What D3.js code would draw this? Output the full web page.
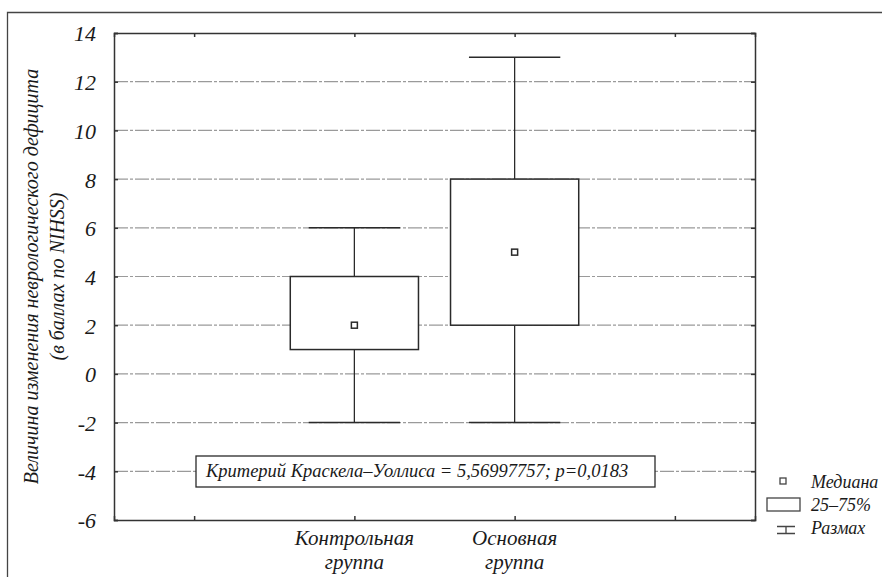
<!DOCTYPE html>
<html><head>
<meta charset="UTF-8">
<script src="https://cdn.jsdelivr.net/npm/d3@7"></script>
</head>
<body style="margin:0">
<svg id="vis" width="882" height="577"></svg>
<script>
// данные
var groups = [["Контрольная","группа"], ["Основная","группа"]];
var groupPos = [2, 3];
var medians = [2, 5];
var q1 = [1, 2];
var q3 = [4, 8];
var mins = [-2, -2];
var maxs = [6, 13];
var yTicks = [-6, -4, -2, 0, 2, 4, 6, 8, 10, 12, 14];
var xTicks = [1, 2, 3, 4];
var testLabel = "Критерий Краскела\u2013Уоллиса = 5,56997757; p=0,0183";
var yTitle = ["Величина изменения неврологического дефицита", "(в баллах по NIHSS)"];
var legendLabels = ["Медиана", "25\u201375%", "Размах"];

var fam = "'Times New Roman', 'Liberation Serif', Tinos, serif";
var ink = "#1a1a1a";
var svg = d3.select("#vis").style("font-family", fam).style("font-style", "italic");
var L = 114, R = 755, T = 33, B = 520;

function txt(sel, size){
  return sel.style("font-family", fam).style("font-style","italic")
    .style("font-size", size + "px").attr("fill", ink);
}

// внешняя рамка
svg.append("path").attr("d", "M7.5,577 V12.5 H882")
  .attr("fill","none").attr("stroke","#444").attr("stroke-width",1.3);

var y = d3.scaleLinear().domain([-6,14]).range([B,T]);
var x = d3.scaleLinear().domain([0.5,4.5]).range([L,R]);

// сетка
var gGrid = svg.append("g");
gGrid.selectAll("line").data(yTicks.filter(function(d){ return d>-6 && d<14; }))
  .enter().append("line")
  .attr("x1",L).attr("x2",R)
  .attr("y1",function(d){ return y(d); }).attr("y2",function(d){ return y(d); })
  .attr("stroke","#9a9a9a").attr("stroke-width",1.2)
  .attr("stroke-dasharray","14,2,3,2");

// оси
var gy = svg.append("g").attr("transform","translate("+L+",0)")
  .call(d3.axisLeft(y).tickValues(yTicks).tickSize(-4).tickPadding(18)
    .tickFormat(function(d){ return String(d); }));
var gyr = svg.append("g").attr("transform","translate("+R+",0)")
  .call(d3.axisRight(y).tickValues(yTicks).tickSize(-4).tickFormat(""));
var gx = svg.append("g").attr("transform","translate(0,"+B+")")
  .call(d3.axisBottom(x).tickValues(xTicks).tickSize(-4).tickFormat(""));
var gxt = svg.append("g").attr("transform","translate(0,"+T+")")
  .call(d3.axisTop(x).tickValues(xTicks).tickSize(-4).tickFormat(""));
[gy,gyr,gx,gxt].forEach(function(g){
  g.attr("font-family", null).style("font-family", fam);
  g.select(".domain").attr("stroke","#333").attr("stroke-width",1.5);
  g.selectAll(".tick line").attr("stroke","#333").attr("stroke-width",1.5);
});
txt(gy.selectAll(".tick text"), 22).attr("dy","0.36em");

// подписи категорий
groups.forEach(function(g,i){
  var t = txt(svg.append("text"), 21).attr("text-anchor","middle")
    .attr("x", x(groupPos[i])).attr("y", 545);
  t.append("tspan").attr("x", x(groupPos[i])).text(g[0]);
  t.append("tspan").attr("x", x(groupPos[i])).attr("dy", 24).text(g[1]);
});

// заголовок оси Y
yTitle.forEach(function(s,i){
  txt(svg.append("text"), 20).attr("text-anchor","middle")
    .attr("transform","translate("+(38+i*26)+","+((T+B)/2)+") rotate(-90)")
    .text(s);
});

// ящики
var bw = 0.8, cw = 0.57;
var gBox = svg.append("g");
groupPos.forEach(function(p,i){
  var g = gBox.append("g");
  var st = "#2a2a2a";
  g.append("line").attr("x1",x(p)).attr("x2",x(p)).attr("y1",y(maxs[i])).attr("y2",y(q3[i]))
    .attr("stroke",st).attr("stroke-width",1.3);
  g.append("line").attr("x1",x(p)).attr("x2",x(p)).attr("y1",y(q1[i])).attr("y2",y(mins[i]))
    .attr("stroke",st).attr("stroke-width",1.3);
  g.append("line").attr("x1",x(p-cw/2)).attr("x2",x(p+cw/2)).attr("y1",y(maxs[i])).attr("y2",y(maxs[i]))
    .attr("stroke",st).attr("stroke-width",1.5);
  g.append("line").attr("x1",x(p-cw/2)).attr("x2",x(p+cw/2)).attr("y1",y(mins[i])).attr("y2",y(mins[i]))
    .attr("stroke",st).attr("stroke-width",1.5);
  g.append("rect").attr("x",x(p-bw/2)).attr("width",x(p+bw/2)-x(p-bw/2))
    .attr("y",y(q3[i])).attr("height",y(q1[i])-y(q3[i]))
    .attr("fill","#fff").attr("stroke",st).attr("stroke-width",1.5);
  g.append("rect").attr("x",x(p)-3).attr("y",y(medians[i])-3).attr("width",6).attr("height",6)
    .attr("fill","#fff").attr("stroke",st).attr("stroke-width",1.5);
});

// блок с критерием
svg.append("rect").attr("x",196).attr("y",456).attr("width",459).attr("height",31)
  .attr("fill","#fff").attr("stroke","#2a2a2a").attr("stroke-width",1.3);
txt(svg.append("text"), 18.5).attr("x",206).attr("y",477).text(testLabel);

// легенда
var lg = svg.append("g");
lg.append("rect").attr("x",780).attr("y",478).attr("width",6).attr("height",6)
  .attr("fill","#fff").attr("stroke","#444").attr("stroke-width",1.3);
lg.append("rect").attr("x",767).attr("y",498).attr("width",33).attr("height",13)
  .attr("fill","#fff").attr("stroke","#444").attr("stroke-width",1.3);
lg.append("path").attr("d","M777,526.5 H795 M777,533.5 H795 M786,526.5 V533.5")
  .attr("fill","none").attr("stroke","#444").attr("stroke-width",1.3);
legendLabels.forEach(function(s,i){
  txt(lg.append("text"), 18).attr("x",811).attr("y",488+i*23).text(s);
});
</script>
</body></html>
